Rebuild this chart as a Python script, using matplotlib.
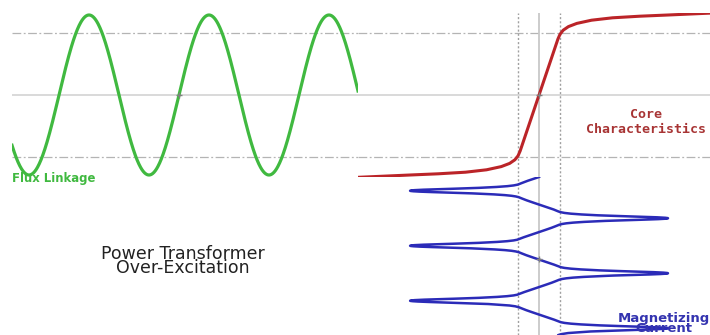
import numpy as np
import matplotlib
matplotlib.use("Agg")
import matplotlib.pyplot as plt

W, H = 710, 335

# core characteristic (positive half, mirrored below)
# current in knee units, flux linkage in per unit of peak flux
core_current = [0.0, 0.9, 1.0, 1.15, 1.4, 1.8, 2.5, 3.5, 4.8, 6.14, 8.7]
core_flux = [0.0, 0.70, 0.76, 0.81, 0.855, 0.895, 0.935, 0.965, 0.985, 1.0, 1.03]
knee_flux = 0.775
knee_current = 1.0

# time axis limits in cycles
wave_cycles = (-0.392, 2.492)
current_cycles = 2.873
current_limits = (-8.62, 8.14)
wave_cursor = 1.0
current_cursor = 1.5

green = "#40b940"
red = "#bb2428"
blue = "#2b2bb8"
grid_dash = "#b4b4b4"
grid_solid = "#d0d0d0"


def px_rect(x0, y0, x1, y1):
    return [x0 / W, 1 - y1 / H, (x1 - x0) / W, (y1 - y0) / H]


def fx(x):
    return x / W


def fy(y):
    return 1 - y / H


fig = plt.figure(figsize=(W / 100, H / 100), dpi=100)

ax_wave = fig.add_axes(px_rect(12, 13, 358, 177))
ax_core = fig.add_axes(px_rect(358, 13, 710, 177))
ax_cur = fig.add_axes(px_rect(358, 177, 710, 335))

for ax in (ax_wave, ax_core, ax_cur):
    ax.set_axis_off()

flux_lim = (-1.025, 1.025)

# horizontal guides across flux wave and core curve
for ax in (ax_wave, ax_core):
    ax.set_ylim(*flux_lim)
    for k in (knee_flux, -knee_flux):
        ax.axhline(k, color=grid_dash, lw=0.9, ls=(0, (7, 2, 1.5, 2)), zorder=1)
    ax.axhline(0, color=grid_solid, lw=1.1, zorder=1)

# vertical guides through core curve and current
for ax in (ax_core, ax_cur):
    ax.set_xlim(*current_limits)
    for k in (knee_current, -knee_current):
        ax.axvline(k, color="#a0a0a0", lw=1.0, ls=(0, (1.5, 1.5)), zorder=1)
    ax.axvline(0, color="#c8c8c8", lw=1.3, zorder=1)

# flux linkage wave
t = np.linspace(wave_cycles[0], wave_cycles[1], 800)
ax_wave.set_xlim(*wave_cycles)
ax_wave.plot(t, np.sin(2 * np.pi * t), color=green, lw=2.3, zorder=3)
ax_wave.plot([wave_cursor], [0], marker="+", color="#808080", ms=5, mew=1, zorder=4)

# core characteristic
cur_pos = np.array(core_current)
flux_pos = np.array(core_flux)
cur_all = np.concatenate([-cur_pos[::-1], cur_pos[1:]])
flux_all = np.concatenate([-flux_pos[::-1], flux_pos[1:]])
ax_core.plot(cur_all, flux_all, color=red, lw=2.2, zorder=3)
ax_core.plot([0], [0], marker="+", color="#808080", ms=5, mew=1, zorder=4)

# magnetizing current, time running downward
tc = np.linspace(0, current_cycles, 3000)
flux_t = -np.sin(2 * np.pi * tc)
i_t = np.interp(flux_t, flux_all, cur_all)
ax_cur.set_ylim(current_cycles, 0)
ax_cur.plot(i_t, tc, color=blue, lw=1.8, zorder=3)
ax_cur.plot([0], [current_cursor], marker="+", color="#808080", ms=5, mew=1, zorder=4)

# labels (va="baseline" lines up the last line of each block)
fig.text(fx(12), fy(182), "Flux Linkage", color=green, fontsize=8.4,
         fontweight="bold", ha="left", va="baseline")
fig.text(fx(646), fy(133), "Core\nCharacteristics", color="#a83434", fontsize=9.5,
         family="DejaVu Sans Mono", fontweight="bold", ha="center", va="baseline",
         multialignment="center", linespacing=1.2)
fig.text(fx(664), fy(332), "Magnetizing\nCurrent", color="#3434b0", fontsize=9.5,
         fontweight="bold", ha="center", va="baseline", multialignment="center",
         linespacing=0.74)
fig.text(fx(183), fy(273), "Power Transformer\nOver-Excitation", color="#222222",
         fontsize=12.5, ha="center", va="baseline", multialignment="center",
         linespacing=0.7)

fig.savefig("out.png", dpi=100)
